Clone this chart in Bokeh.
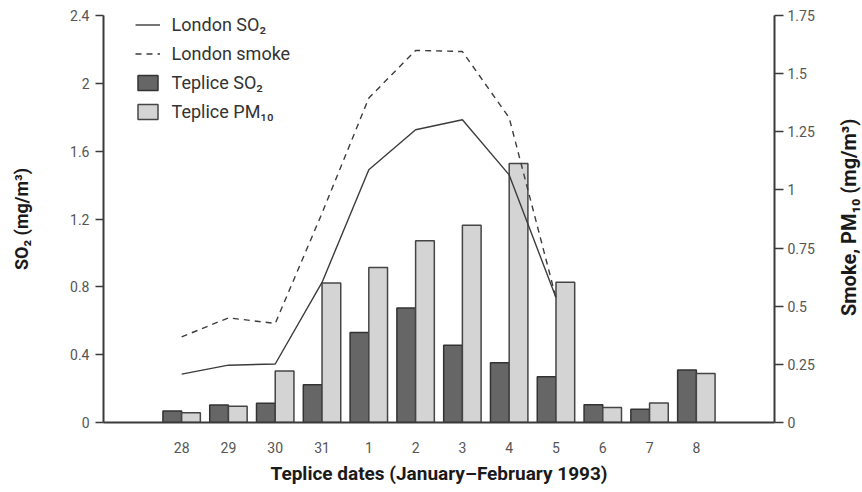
import math
from bokeh.plotting import figure
from bokeh.layouts import row
from bokeh.core.properties import value
from bokeh.models import (FactorRange, Range1d, LinearAxis, FixedTicker, Legend,
                          LegendItem, ColumnDataSource)
from bokeh.transform import dodge
from bokeh.embed import file_html
from bokeh.resources import INLINE

# ---- data ----
dates = ["28", "29", "30", "31", "1", "2", "3", "4", "5", "6", "7", "8"]
teplice_so2 = [0.068, 0.103, 0.113, 0.223, 0.53, 0.675, 0.456, 0.352, 0.27, 0.105, 0.078, 0.31]
teplice_pm10 = [0.042, 0.070, 0.221, 0.600, 0.666, 0.782, 0.848, 1.114, 0.603, 0.065, 0.084, 0.211]

london_dates = ["28", "29", "30", "31", "1", "2", "3", "4", "5"]
london_so2 = [0.285, 0.338, 0.345, 0.826, 1.49, 1.726, 1.785, 1.46, 0.737]
london_smoke = [0.368, 0.45, 0.426, 0.9, 1.395, 1.60, 1.595, 1.31, 0.536]

so2_ticks = [0, 0.4, 0.8, 1.2, 1.6, 2, 2.4]
so2_tick_labels = ["0", "0.4", "0.8", "1.2", "1.6", "2", "2.4"]
smoke_ticks = [0, 0.25, 0.5, 0.75, 1, 1.25, 1.5, 1.75]
smoke_tick_labels = ["0", "0.25", "0.5", "0.75", "1", "1.25", "1.5", "1.75"]

x_title = "Teplice dates (January\u2013February 1993)"
y_title = "SO\u2082 (mg/m\u00b3)"
y2_title = "Smoke, PM\u2081\u2080 (mg/m\u00b3)"

FONT = "Roboto"
TICK_COLOR = "#555555"
AXIS_COLOR = "#3a3a3a"
TITLE_COLOR = "#1a1a1a"

p = figure(
    x_range=FactorRange(factors=dates, range_padding=1.17, range_padding_units="absolute"),
    y_range=Range1d(0, 2.4),
    width=836, height=492,
    output_backend="svg", toolbar_location=None,
    min_border_left=103, min_border_right=62, min_border_top=15, min_border_bottom=70,
)
p.extra_y_ranges = {"smoke": Range1d(0, 1.75)}
p.outline_line_color = None
p.xgrid.visible = False
p.ygrid.visible = False
p.background_fill_color = "white"

src = ColumnDataSource(dict(date=dates, so2=teplice_so2, pm10=teplice_pm10))
r_dark = p.vbar(x=dodge("date", -0.2, range=p.x_range), top="so2", width=0.4, source=src,
                fill_color="#666666", line_color="#333333", line_width=1.5)
r_light = p.vbar(x=dodge("date", 0.2, range=p.x_range), top="pm10", width=0.4, source=src,
                 y_range_name="smoke", fill_color="#d4d4d4", line_color="#454545", line_width=1.5)

lsrc = ColumnDataSource(dict(date=london_dates, so2=london_so2, smoke=london_smoke))
r_so2 = p.line("date", "so2", source=lsrc, line_color="#3c3c3c", line_width=1.4)
r_smoke = p.line("date", "smoke", source=lsrc, y_range_name="smoke",
                 line_color="#3c3c3c", line_width=1.4, line_dash="6 5")

# x axis
xa = p.xaxis[0]
xa.axis_line_width = 2
xa.axis_line_color = AXIS_COLOR
xa.major_tick_line_color = None
xa.major_tick_out = 0
xa.major_tick_in = 0
xa.minor_tick_line_color = None
xa.major_label_standoff = 19
xa.major_label_text_font = FONT
xa.major_label_text_font_size = "14px"
xa.major_label_text_color = TICK_COLOR
xa.axis_label = x_title
xa.axis_label_standoff = 6
xa.axis_label_text_font = FONT
xa.axis_label_text_font_size = "19px"
xa.axis_label_text_font_style = "bold"
xa.axis_label_text_color = TITLE_COLOR

# left axis
ya = p.yaxis[0]
ya.ticker = FixedTicker(ticks=so2_ticks)
ya.major_label_overrides = dict(zip(so2_ticks, so2_tick_labels))
ya.axis_line_width = 2
ya.axis_line_color = AXIS_COLOR
ya.major_tick_out = 8
ya.major_tick_in = 0
ya.major_tick_line_width = 1.5
ya.major_tick_line_color = AXIS_COLOR
ya.minor_tick_line_color = None
ya.major_label_standoff = 6
ya.major_label_text_font = FONT
ya.major_label_text_font_size = "14px"
ya.major_label_text_color = TICK_COLOR
ya.axis_label = y_title
ya.axis_label_standoff = 35
ya.axis_label_text_font = FONT
ya.axis_label_text_font_size = "18px"
ya.axis_label_text_font_style = "bold"
ya.axis_label_text_color = TITLE_COLOR

# right axis
ra = LinearAxis(y_range_name="smoke", ticker=FixedTicker(ticks=smoke_ticks))
ra.major_label_overrides = dict(zip(smoke_ticks, smoke_tick_labels))
ra.axis_line_width = 2
ra.axis_line_color = AXIS_COLOR
ra.major_tick_out = 9
ra.major_tick_in = 0
ra.major_tick_line_width = 1.5
ra.major_tick_line_color = AXIS_COLOR
ra.minor_tick_line_color = None
ra.major_label_standoff = 4
ra.major_label_text_font = FONT
ra.major_label_text_font_size = "14px"
ra.major_label_text_color = TICK_COLOR
p.add_layout(ra, "right")

legend = Legend(
    items=[
        LegendItem(label="London SO\u2082", renderers=[r_so2]),
        LegendItem(label="London smoke", renderers=[r_smoke]),
        LegendItem(label="Teplice SO\u2082", renderers=[r_dark]),
        LegendItem(label="Teplice PM\u2081\u2080", renderers=[r_light]),
    ],
    location=(31.6, 300),
    padding=0, margin=0, spacing=8,
    glyph_width=25, glyph_height=19, label_height=19, label_standoff=12,
    label_text_font=FONT, label_text_font_size="18px", label_text_color="#333333",
    border_line_color=None, background_fill_alpha=0,
)
p.add_layout(legend)

# narrow strip holding the right-hand axis title (reads bottom-to-top)
p2 = figure(width=26, height=492, x_range=Range1d(0, 26), y_range=Range1d(0, 492),
            x_axis_type=None, y_axis_type=None, output_backend="svg",
            toolbar_location=None, min_border=0)
p2.outline_line_color = None
p2.xgrid.visible = False
p2.ygrid.visible = False
p2.text(x=[12], y=[248], text=[y2_title], angle=math.pi / 2,
        text_align="center", text_baseline="middle",
        text_font=value(FONT), text_font_size="20px", text_font_style="bold",
        text_color=TITLE_COLOR)

layout = row(p, p2, spacing=0)
open("out.html", "w").write(file_html(layout, INLINE))
